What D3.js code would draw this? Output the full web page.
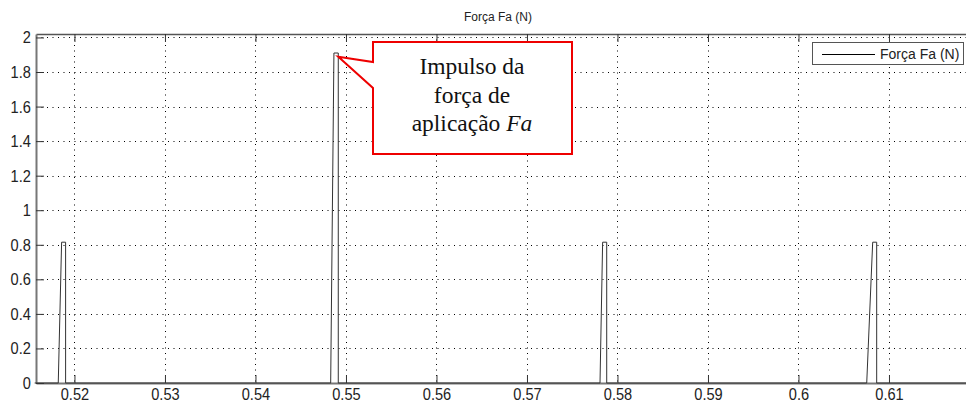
<!DOCTYPE html>
<html>
<head>
<meta charset="utf-8">
<script src="https://cdn.jsdelivr.net/npm/d3@7"></script>
<style>
  body { margin: 0; background: #fff; }
  svg { display: block; }
  .tick text { font-family: "Liberation Sans Narrow", "Arial Narrow", "Liberation Sans", Arial, sans-serif; fill: #222; }
</style>
</head>
<body>
<svg id="chart" width="966" height="405"></svg>
<script>
// tick labels
const xTicks = [0.52, 0.53, 0.54, 0.55, 0.56, 0.57, 0.58, 0.59, 0.6, 0.61];
const yTicks = [0, 0.2, 0.4, 0.6, 0.8, 1, 1.2, 1.4, 1.6, 1.8, 2];

// series "Força Fa (N)": time (s) and force (N)
const timeS = [0.5156, 0.51821, 0.51858, 0.51902, 0.51902,
               0.54831, 0.54867, 0.54915, 0.54915,
               0.57807, 0.57836, 0.57881, 0.57881,
               0.60754, 0.60820, 0.60864, 0.60864, 0.6186];
const forceN = [0, 0, 0.815, 0.815, 0,
                0, 1.91, 1.91, 0,
                0, 0.815, 0.815, 0,
                0, 0.815, 0.815, 0, 0];

const seriesName = "Força Fa (N)";
const calloutLines = ["Impulso da", "força de", "aplicação "];

(function () {
    var svg = d3.select("#chart"),
        pl = 36, pr = 966, pt = 34, pb = 383;

    var x = d3.scaleLinear().domain([0.51575, 0.61851]).range([pl, pr]),
        y = d3.scaleLinear().domain([0, 2.02]).range([pb, pt]);

    // grid
    var grid = svg.append("g").attr("stroke", "#000").attr("stroke-width", 1)
        .attr("stroke-dasharray", "1,4.5");
    grid.selectAll(".gx").data(xTicks).enter().append("line")
        .attr("x1", d => Math.round(x(d)) + 0.5).attr("x2", d => Math.round(x(d)) + 0.5)
        .attr("y1", pt).attr("y2", pb);
    grid.selectAll(".gy").data(yTicks.slice(1)).enter().append("line")
        .attr("x1", pl).attr("x2", pr)
        .attr("y1", d => Math.round(y(d)) + 0.5).attr("y2", d => Math.round(y(d)) + 0.5);

    // axes (ticks inside, matlab style)
    var xAxis = svg.append("g").attr("transform", `translate(0,${pb})`)
        .call(d3.axisBottom(x).tickValues(xTicks).tickSizeInner(-8).tickSizeOuter(0).tickPadding(5)
            .tickFormat(d3.format("")));
    var xTop = svg.append("g").attr("transform", `translate(0,${pt})`)
        .call(d3.axisTop(x).tickValues(xTicks).tickSizeInner(-8).tickSizeOuter(0).tickFormat(""));
    var yAxis = svg.append("g").attr("transform", `translate(${pl},0)`)
        .call(d3.axisLeft(y).tickValues(yTicks).tickSizeInner(-8).tickSizeOuter(0).tickPadding(6)
            .tickFormat(d3.format("")));

    [xAxis, xTop, yAxis].forEach(g => {
        g.select(".domain").attr("stroke", "#777").attr("stroke-width", 2);
        g.selectAll(".tick line").attr("stroke", "#333");
        // labels in the reference are narrow and tall
        g.selectAll(".tick text").attr("font-size", 17).attr("transform", "scale(0.86,1)");
    });
    xTop.select(".domain").attr("stroke", "#555").attr("stroke-width", 1.5);

    // series
    svg.append("path")
        .datum(timeS.map((t, i) => [t, forceN[i]]))
        .attr("fill", "none").attr("stroke", "#333").attr("stroke-width", 1)
        .attr("d", d3.line().x(d => x(d[0])).y(d => y(d[1])));

    // title
    svg.append("text").attr("x", 498).attr("y", 21).attr("text-anchor", "middle")
        .attr("font-family", "Liberation Sans, Arial, sans-serif").attr("font-size", 12)
        .attr("fill", "#222").text(seriesName);

    // legend
    var lg = svg.append("g");
    lg.append("rect").attr("x", 812.5).attr("y", 42.5).attr("width", 151).attr("height", 22)
        .attr("fill", "#fff").attr("stroke", "#555");
    lg.append("line").attr("x1", 822).attr("x2", 875).attr("y1", 54.5).attr("y2", 54.5)
        .attr("stroke", "#000");
    lg.append("text").attr("x", 880).attr("y", 59).attr("font-size", 14)
        .attr("font-family", "Liberation Sans, Arial, sans-serif").attr("fill", "#222").text(seriesName);

    // callout pointing at the big impulse
    var tipX = x(timeS[7]), tipY = y(1.888),
        bx0 = 373, bx1 = 572, by0 = 42, by1 = 154;
    svg.append("path")
        .attr("d", `M${bx0},${by0} L${bx1},${by0} L${bx1},${by1} L${bx0},${by1} L${bx0},88 L${tipX},${tipY} L${bx0},62 Z`)
        .attr("fill", "#fff").attr("stroke", "#e00").attr("stroke-width", 2)
        .attr("stroke-linejoin", "miter");
    var ct = svg.append("text").attr("text-anchor", "middle")
        .attr("font-family", "Liberation Serif, Times New Roman, serif").attr("font-size", 23.5)
        .attr("fill", "#111");
    calloutLines.forEach((s, i) => {
        ct.append("tspan").attr("x", 472).attr("y", 74 + i * 28.5).text(s);
        if (i === 2) ct.append("tspan").attr("font-style", "italic").text("Fa");
    });
})();
</script>
</body>
</html>
